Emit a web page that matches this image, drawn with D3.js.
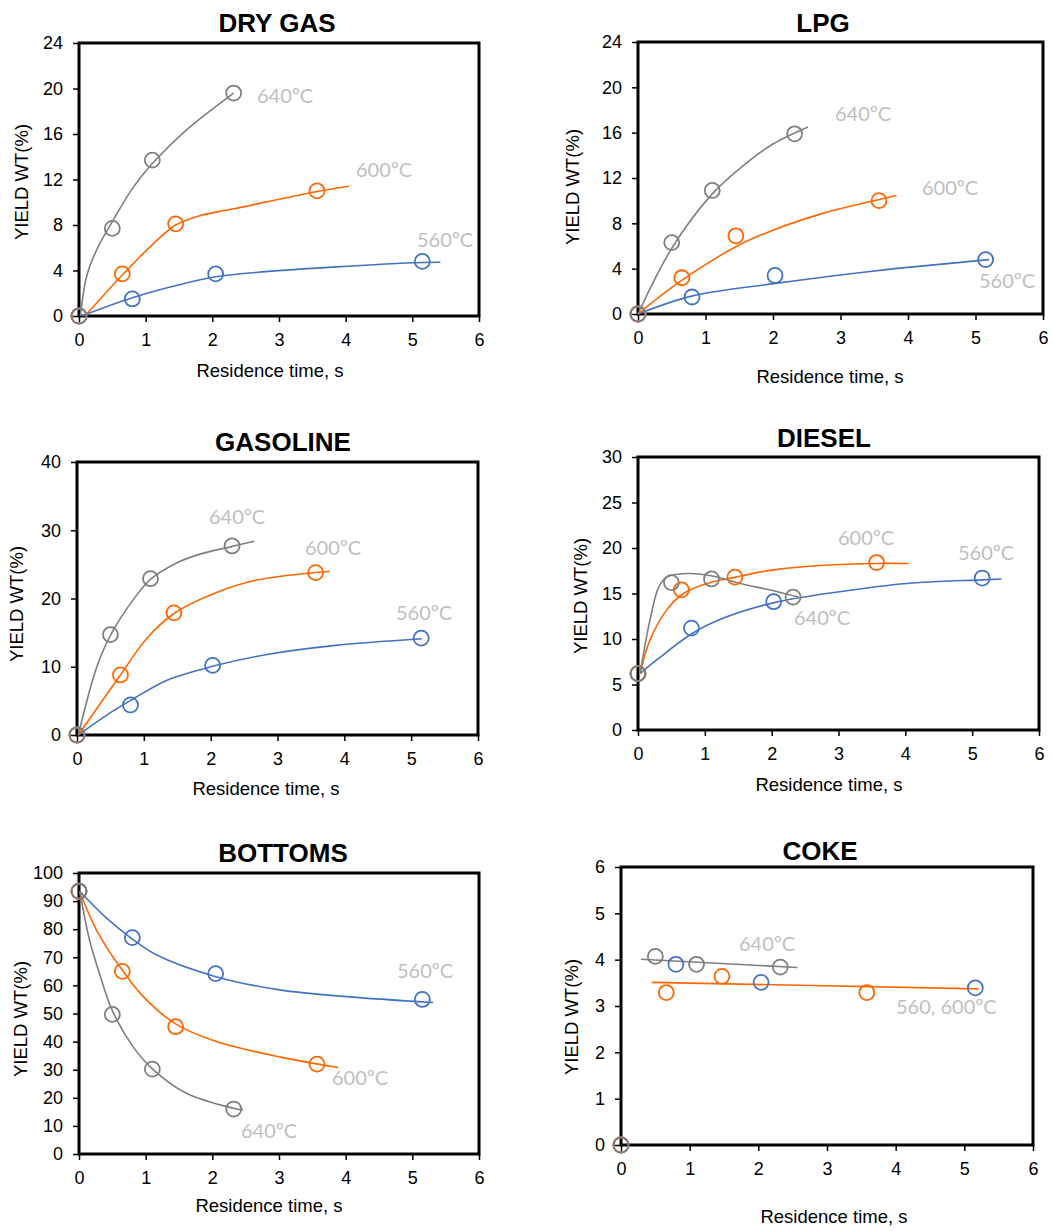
<!DOCTYPE html>
<html>
<head>
<meta charset="utf-8">
<script src="https://cdn.jsdelivr.net/npm/d3@7"></script>
<style>
body { margin: 0; background: #fff; }
svg text { font-family: "Liberation Sans", Arial, sans-serif; fill: #000; }
.tick text { font-size: 18px; }
.tick line { stroke: #000; stroke-width: 1.5; }
.domain { display: none; }
.frame { fill: none; stroke: #000; stroke-width: 3; }
.title { font-size: 26px; font-weight: bold; }
.axis-title { font-size: 18.5px; }
svg text.temp { font-family: Lato, "Open Sans", sans-serif; font-size: 20px; fill: #bfbfbf; }
.fit { fill: none; stroke-width: 1.6; }
.dot { fill: none; stroke-width: 1.8; }
</style>
</head>
<body>
<svg id="canvas" width="1053" height="1231"></svg>
<script>
var xTicks = [0, 1, 2, 3, 4, 5, 6];
var colors = {"560": "#4472c4", "600": "#ff6600", "640": "#7f7f7f"};

// DRY GAS
var yTicksDryGas = [0, 4, 8, 12, 16, 20, 24];
var dryGas560 = [[0, 0], [0.8, 1.5], [2.05, 3.7], [5.15, 4.8]];
var dryGas600 = [[0, 0], [0.65, 3.7], [1.45, 8.1], [3.57, 11.0]];
var dryGas640 = [[0, 0], [0.5, 7.7], [1.1, 13.7], [2.32, 19.6]];
var dryGasFit560 = [[0.04, 0], [0.8, 1.6], [1.47, 2.7], [2.05, 3.45], [2.8, 3.9], [3.8, 4.3], [5.15, 4.7], [5.42, 4.72]];
var dryGasFit600 = [[0.09, 0], [0.65, 3.6], [1.07, 6.1], [1.45, 8.0], [1.8, 8.8], [2.3, 9.4], [3.57, 10.95], [4.05, 11.4]];
var dryGasFit640 = [[0.02, 0], [0.12, 3.6], [0.28, 6.0], [0.5, 8.3], [0.8, 11.2], [1.1, 13.4], [1.6, 16.3], [2.32, 19.6]];

// LPG
var yTicksLpg = [0, 4, 8, 12, 16, 20, 24];
var lpg560 = [[0, 0], [0.8, 1.5], [2.03, 3.4], [5.15, 4.8]];
var lpg600 = [[0, 0], [0.65, 3.2], [1.45, 6.9], [3.57, 10.0]];
var lpg640 = [[0, 0], [0.5, 6.3], [1.1, 10.9], [2.32, 15.9]];
var lpgFit560 = [[0, 0], [0.81, 1.6], [2.04, 2.7], [3.5, 3.8], [5.2, 4.8]];
var lpgFit600 = [[0, 0], [0.63, 2.9], [1.47, 6.0], [2.0, 7.4], [2.75, 8.9], [3.57, 10.1], [3.83, 10.45]];
var lpgFit640 = [[0, 0], [0.5, 5.8], [1.1, 10.6], [1.6, 13.3], [2.0, 15.0], [2.52, 16.5]];

// GASOLINE
var yTicksGasoline = [0, 10, 20, 30, 40];
var gasoline560 = [[0, 0], [0.8, 4.4], [2.03, 10.2], [5.15, 14.2]];
var gasoline600 = [[0, 0], [0.65, 8.8], [1.45, 17.9], [3.57, 23.8]];
var gasoline640 = [[0, 0], [0.5, 14.7], [1.1, 22.9], [2.32, 27.7]];
var gasolineFit560 = [[0.02, 0], [0.49, 3.2], [0.81, 5.1], [1.34, 8.0], [2.04, 10.1], [2.84, 11.8], [3.84, 13.1], [5.16, 14.1]];
var gasolineFit600 = [[0.02, 0], [0.65, 8.8], [1.04, 14.1], [1.45, 17.8], [2.04, 20.7], [2.64, 22.6], [3.56, 23.8], [3.78, 24.0]];
var gasolineFit640 = [[0.02, 0], [0.29, 9.8], [0.5, 14.6], [0.84, 19.8], [1.1, 22.8], [1.49, 25.2], [1.84, 26.5], [2.31, 27.6], [2.65, 28.4]];

// DIESEL
var yTicksDiesel = [0, 5, 10, 15, 20, 25, 30];
var diesel560 = [[0, 6.2], [0.8, 11.2], [2.03, 14.1], [5.15, 16.7]];
var diesel600 = [[0, 6.2], [0.65, 15.4], [1.45, 16.8], [3.57, 18.4]];
var diesel640 = [[0, 6.2], [0.5, 16.2], [1.1, 16.6], [2.32, 14.6]];
var dieselFit560 = [[0.03, 6.2], [0.28, 7.7], [0.81, 10.6], [1.28, 12.3], [2.04, 14.0], [3.02, 15.2], [4.02, 16.1], [5.15, 16.5], [5.44, 16.6]];
var dieselFit600 = [[0.03, 6.2], [0.18, 9.9], [0.43, 13.2], [0.68, 15.0], [1.03, 16.1], [1.46, 16.8], [2.03, 17.6], [2.78, 18.1], [3.57, 18.3], [4.05, 18.3]];
var dieselFit640 = [[0.03, 6.2], [0.18, 12.1], [0.31, 15.7], [0.43, 16.8], [0.78, 17.2], [1.13, 16.9], [1.53, 16.1], [2.03, 15.3], [2.4, 14.6]];

// BOTTOMS
var yTicksBottoms = [0, 10, 20, 30, 40, 50, 60, 70, 80, 90, 100];
var bottoms560 = [[0, 93.5], [0.8, 77], [2.05, 64.2], [5.15, 55]];
var bottoms600 = [[0, 93.5], [0.65, 65], [1.45, 45.3], [3.57, 32]];
var bottoms640 = [[0, 93.5], [0.5, 49.7], [1.1, 30.2], [2.32, 16]];
var bottomsFit560 = [[0.01, 93.5], [0.41, 84], [0.8, 76.5], [1.16, 70.9], [2.04, 63.2], [3.01, 58.4], [4.01, 56], [5.31, 53.9]];
var bottomsFit600 = [[0.01, 93.5], [0.26, 79.8], [0.61, 66.7], [0.96, 56.1], [1.45, 46.3], [2.06, 40], [3.06, 34.3], [3.89, 30.8]];
var bottomsFit640 = [[0.01, 93.5], [0.16, 76], [0.31, 64], [0.5, 51], [0.81, 38.2], [1.1, 30.3], [1.61, 21.6], [2.31, 16.3], [2.46, 15.7]];

// COKE
var yTicksCoke = [0, 1, 2, 3, 4, 5, 6];
var coke560 = [[0, 0], [0.8, 3.9], [2.04, 3.51], [5.16, 3.39]];
var coke600 = [[0, 0], [0.66, 3.29], [1.47, 3.64], [3.58, 3.29]];
var coke640 = [[0, 0], [0.5, 4.07], [1.1, 3.9], [2.32, 3.84]];
var cokeFit600 = [[0.45, 3.51], [5.21, 3.37]];
var cokeFit640 = [[0.29, 4.01], [2.57, 3.83]];

var svg = d3.select("#canvas");

// layout of the six panels (plot box, title, axis titles, temperature labels)
var panels = [
  {title: "DRY GAS", yTicks: yTicksDryGas, box: [79, 43, 479, 316], titlePos: [277, 32], xTitlePos: [270, 377], yTitlePos: [22, 182],
   series: [["560", dryGas560, dryGasFit560], ["600", dryGas600, dryGasFit600], ["640", dryGas640, dryGasFit640]],
   labels: [["640ºC", 178, 60], ["600ºC", 277, 134], ["560ºC", 338, 204]]},
  {title: "LPG", yTicks: yTicksLpg, box: [638, 42, 1043, 314], titlePos: [823, 32], xTitlePos: [830, 383], yTitlePos: [573, 187],
   series: [["560", lpg560, lpgFit560], ["600", lpg600, lpgFit600], ["640", lpg640, lpgFit640]],
   labels: [["640ºC", 197, 79], ["600ºC", 284, 153], ["560ºC", 341, 246]]},
  {title: "GASOLINE", yTicks: yTicksGasoline, box: [77, 462, 478, 735], titlePos: [283, 451], xTitlePos: [266, 795], yTitlePos: [17, 604],
   series: [["560", gasoline560, gasolineFit560], ["600", gasoline600, gasolineFit600], ["640", gasoline640, gasolineFit640]],
   labels: [["640ºC", 132, 62], ["600ºC", 228, 93], ["560ºC", 319, 158]]},
  {title: "DIESEL", yTicks: yTicksDiesel, box: [638, 457, 1039, 730], titlePos: [824, 447], xTitlePos: [829, 791], yTitlePos: [581, 596],
   series: [["560", diesel560, dieselFit560], ["600", diesel600, dieselFit600], ["640", diesel640, dieselFit640]],
   labels: [["600ºC", 200, 88], ["560ºC", 320, 103], ["640ºC", 156, 168]]},
  {title: "BOTTOMS", yTicks: yTicksBottoms, box: [79, 873, 479, 1154], titlePos: [283, 862], xTitlePos: [269, 1212], yTitlePos: [21, 1019],
   series: [["560", bottoms560, bottomsFit560], ["600", bottoms600, bottomsFit600], ["640", bottoms640, bottomsFit640]],
   labels: [["560ºC", 318, 105], ["600ºC", 253, 212], ["640ºC", 162, 265]]},
  {title: "COKE", yTicks: yTicksCoke, box: [621, 867, 1033, 1145], titlePos: [820, 860], xTitlePos: [834, 1223], yTitlePos: [572, 1017],
   series: [["560", coke560, null], ["600", coke600, cokeFit600], ["640", coke640, cokeFit640]],
   labels: [["640ºC", 118, 84], ["560, 600ºC", 275, 147]]}
];

panels.forEach(function(p) {
  var left = p.box[0], top = p.box[1], right = p.box[2], bottom = p.box[3];

  var xScale = d3.scaleLinear().domain([0, 6]).range([left, right]);
  var yScale = d3.scaleLinear()
    .domain([0, d3.max(p.yTicks)])
    .range([bottom, top]);

  var g = svg.append("g");

  g.append("g")
    .attr("transform", "translate(0," + bottom + ")")
    .call(d3.axisBottom(xScale).tickValues(xTicks).tickFormat(d3.format("d"))
      .tickSize(6).tickSizeOuter(0).tickPadding(11));

  g.append("g")
    .attr("transform", "translate(" + left + ",0)")
    .call(d3.axisLeft(yScale).tickValues(p.yTicks).tickFormat(d3.format("d"))
      .tickSize(6).tickSizeOuter(0).tickPadding(10));

  g.append("rect")
    .attr("class", "frame")
    .attr("x", left)
    .attr("y", top)
    .attr("width", right - left)
    .attr("height", bottom - top);

  var line = d3.line()
    .x(function(d) { return xScale(d[0]); })
    .y(function(d) { return yScale(d[1]); })
    .curve(d3.curveCatmullRom.alpha(0.5));

  p.series.forEach(function(s) {
    if (!s[2]) return;
    g.append("path")
      .datum(s[2])
      .attr("class", "fit")
      .attr("stroke", colors[s[0]])
      .attr("d", line);
  });

  p.series.forEach(function(s) {
    g.selectAll(null)
      .data(s[1])
      .enter().append("circle")
      .attr("class", "dot")
      .attr("stroke", colors[s[0]])
      .attr("r", 7.5)
      .attr("cx", function(d) { return xScale(d[0]); })
      .attr("cy", function(d) { return yScale(d[1]); });
  });

  g.selectAll(null)
    .data(p.labels)
    .enter().append("text")
    .attr("class", "temp")
    .attr("x", function(d) { return left + d[1]; })
    .attr("y", function(d) { return top + d[2]; })
    .text(function(d) { return d[0]; });

  g.append("text")
    .attr("class", "title")
    .attr("text-anchor", "middle")
    .attr("x", p.titlePos[0])
    .attr("y", p.titlePos[1])
    .text(p.title);

  g.append("text")
    .attr("class", "axis-title")
    .attr("text-anchor", "middle")
    .attr("x", p.xTitlePos[0])
    .attr("y", p.xTitlePos[1])
    .text("Residence time, s");

  g.append("text")
    .attr("class", "axis-title")
    .attr("text-anchor", "middle")
    .attr("transform", "translate(" + p.yTitlePos[0] + "," + p.yTitlePos[1] + ") rotate(-90)")
    .attr("dy", "0.35em")
    .text("YIELD WT(%)");
});
</script>
</body>
</html>
